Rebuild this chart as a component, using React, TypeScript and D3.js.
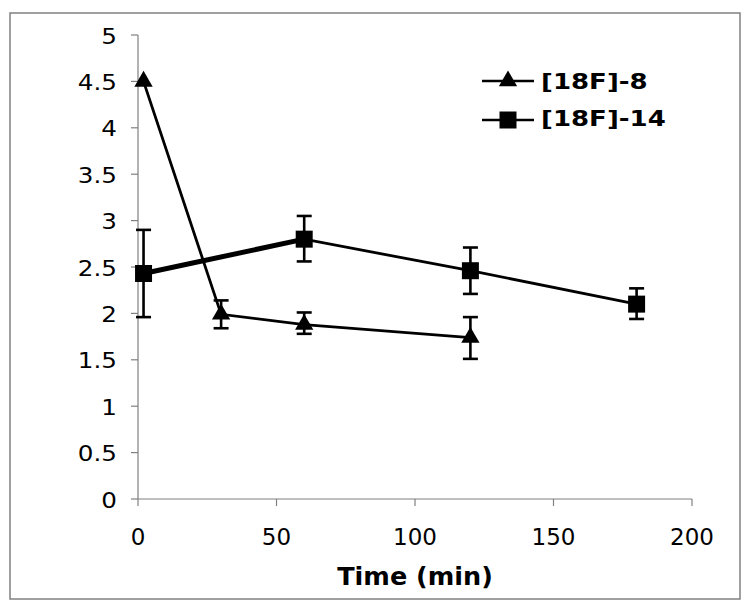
import React from "react";
import * as d3 from "d3";

const xTicks = [0, 50, 100, 150, 200];
const yTicks = [0, 0.5, 1, 1.5, 2, 2.5, 3, 3.5, 4, 4.5, 5];

const s8Time = [2, 30, 60, 120];
const s8Value = [4.5, 1.99, 1.88, 1.74];
const s8ErrHigh = [4.5, 2.14, 2.01, 1.96];
const s8ErrLow = [4.5, 1.84, 1.78, 1.51];

const s14Time = [2, 60, 120, 180];
const s14Value = [2.43, 2.8, 2.46, 2.1];
const s14ErrHigh = [2.9, 3.05, 2.71, 2.27];
const s14ErrLow = [1.96, 2.56, 2.21, 1.94];

const seriesNames = ["[18F]-8", "[18F]-14"];

const W = 750;
const H = 609;
const FONT = "'DejaVu Sans', Verdana, sans-serif";

export default function App() {
  const x = d3.scaleLinear().domain([0, 200]).range([138, 692]);
  const y = d3.scaleLinear().domain([0, 5]).range([499, 35]);
  const line = d3
    .line<[number, number]>()
    .x((d) => x(d[0]))
    .y((d) => y(d[1]));
  const tri = d3.symbol(d3.symbolTriangle, 145)() as string;
  const sq = d3.symbol(d3.symbolSquare, 289)() as string;

  const s8 = s8Time.map((t, i) => [t, s8Value[i]] as [number, number]);
  const s14 = s14Time.map((t, i) => [t, s14Value[i]] as [number, number]);

  const errBars = (times: number[], hi: number[], lo: number[], key: string) =>
    times.map((t, i) =>
      hi[i] === lo[i] ? null : (
        <g key={key + i} stroke="#000" strokeWidth={2.6}>
          <line x1={x(t)} x2={x(t)} y1={y(hi[i])} y2={y(lo[i])} />
          <line x1={x(t) - 7.5} x2={x(t) + 7.5} y1={y(hi[i])} y2={y(hi[i])} />
          <line x1={x(t) - 7.5} x2={x(t) + 7.5} y1={y(lo[i])} y2={y(lo[i])} />
        </g>
      )
    );

  return (
    <svg
      width={W}
      height={H}
      style={{ position: "absolute", left: 0, top: 0, background: "#fff" }}
    >
      <rect x={10} y={13} width={730} height={586} fill="#fff" stroke="#808080" strokeWidth={1.5} />
      {/* axes */}
      <g stroke="#808080" strokeWidth={1.2}>
        <line x1={x(0)} x2={x(0)} y1={y(0)} y2={y(5)} />
        <line x1={x(0)} x2={x(200)} y1={y(0)} y2={y(0)} />
        {yTicks.map((t) => (
          <line key={"yt" + t} x1={x(0) - 7} x2={x(0)} y1={y(t)} y2={y(t)} />
        ))}
        {xTicks.map((t) => (
          <line key={"xt" + t} x1={x(t)} x2={x(t)} y1={y(0)} y2={y(0) + 7} />
        ))}
      </g>
      <g fontFamily={FONT} fill="#000">
        {yTicks.map((t) => (
          <text
            key={"yl" + t}
            transform={`translate(117,${y(t) + 8.5}) scale(1.12,1)`}
            fontSize={22}
            textAnchor="end"
          >
            {String(t)}
          </text>
        ))}
        {xTicks.map((t) => (
          <text key={"xl" + t} x={x(t)} y={545} fontSize={23} textAnchor="middle">
            {String(t)}
          </text>
        ))}
        <text x={415} y={585} fontSize={25.5} textAnchor="middle" fontWeight="bold">
          Time (min)
        </text>
      </g>
      {/* error bars */}
      {errBars(s8Time, s8ErrHigh, s8ErrLow, "e8")}
      {errBars(s14Time, s14ErrHigh, s14ErrLow, "e14")}
      {/* lines */}
      <path d={line(s8) as string} fill="none" stroke="#000" strokeWidth={2.8} />
      <path d={line(s14) as string} fill="none" stroke="#000" strokeWidth={2.8} />
      <path d={line(s14.slice(0, 2)) as string} fill="none" stroke="#000" strokeWidth={5} />
      {/* markers */}
      {s8.map((d, i) => (
        <path key={"m8" + i} d={tri} transform={`translate(${x(d[0])},${y(d[1])})`} fill="#000" />
      ))}
      {s14.map((d, i) => (
        <path key={"m14" + i} d={sq} transform={`translate(${x(d[0])},${y(d[1])})`} fill="#000" />
      ))}
      {/* legend */}
      <g>
        <line x1={482} x2={534} y1={81} y2={81} stroke="#000" strokeWidth={2.6} />
        <path d={tri} transform="translate(508,81)" fill="#000" />
        <line x1={482} x2={534} y1={120} y2={120} stroke="#000" strokeWidth={2.6} />
        <path d={sq} transform="translate(508,120)" fill="#000" />
        <g fontFamily={FONT} fontSize={21} fontWeight="bold" fill="#000">
          <text transform="translate(541,89) scale(1.24,1)">{seriesNames[0]}</text>
          <text transform="translate(541,126) scale(1.24,1)">{seriesNames[1]}</text>
        </g>
      </g>
    </svg>
  );
}
